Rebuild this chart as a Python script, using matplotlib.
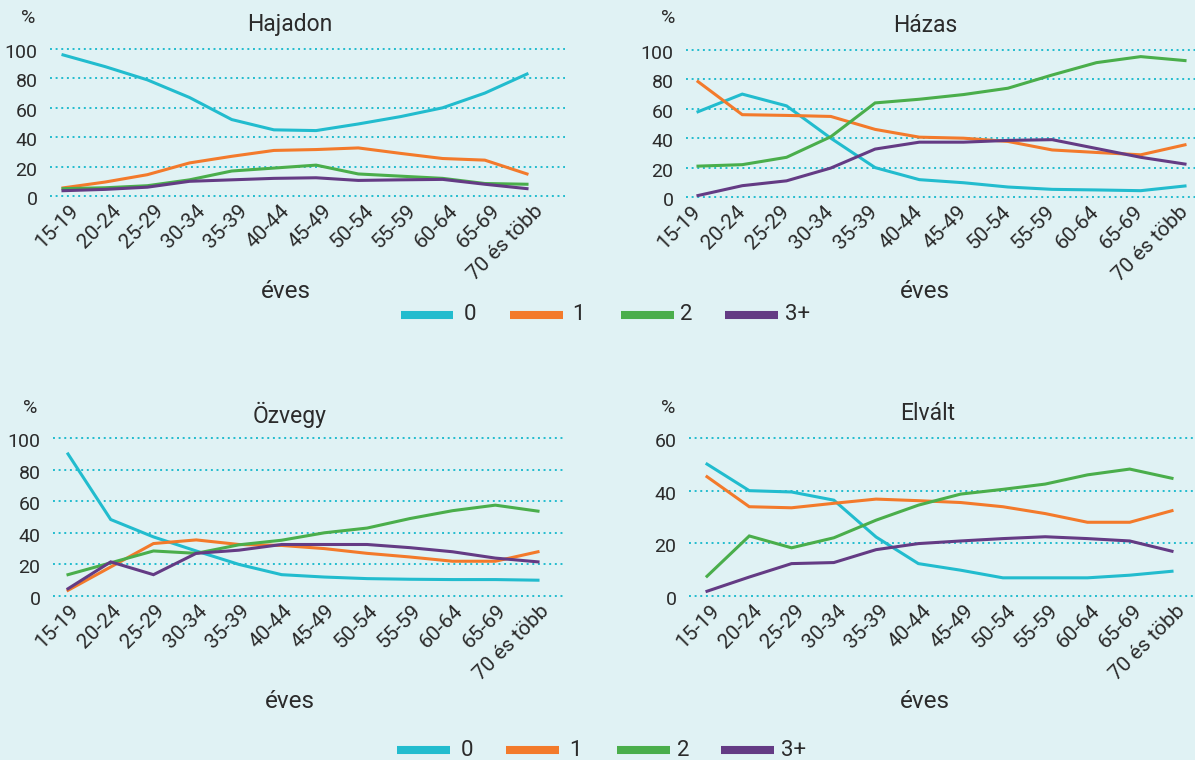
import matplotlib
matplotlib.use("Agg")
import matplotlib.pyplot as plt
from matplotlib.lines import Line2D
from matplotlib import transforms

plt.rcParams['font.family'] = ['Roboto', 'DejaVu Sans']

W, H = 1195, 760
BG = '#E0F2F4'
TXT = '#2B2B2B'
GRID = '#22BCCE'

categories = ['15-19', '20-24', '25-29', '30-34', '35-39', '40-44', '45-49',
              '50-54', '55-59', '60-64', '65-69', '70 és több']
series_names = ['0', '1', '2', '3+']
colors = ['#22BCCE', '#F37A2B', '#4AAE4B', '#643B84']

hajadon_0 = [96, 88, 79, 67, 52, 45, 44.5, 49, 54, 60, 70, 83]
hajadon_1 = [5.5, 9.5, 14.5, 22.5, 27, 31, 31.6, 32.7, 29, 25.5, 24.4, 15]
hajadon_2 = [5, 5.6, 7, 11, 17, 19, 21, 15, 13.5, 12, 8.5, 8]
hajadon_3 = [3.6, 4.5, 6, 10, 11, 12, 12.4, 10.6, 11, 11.3, 8, 5]

hazas_0 = [58, 70, 62, 40, 20, 11.8, 9.7, 6.8, 5.2, 4.8, 4.3, 7.5]
hazas_1 = [78.5, 56, 55.5, 54.8, 46, 40.7, 40, 37.8, 32, 30.3, 28.7, 35.5]
hazas_2 = [21, 22, 27, 41, 64, 66.5, 69.7, 74, 83, 91.4, 95.5, 92.8]
hazas_3 = [1, 7.7, 11, 19.7, 32.6, 37.3, 37.3, 38.5, 39, 33, 27, 22.4]

ozvegy_0 = [89.9, 48.4, 37.4, 28.5, 20, 13.5, 12, 11, 10.6, 10.4, 10.4, 10]
ozvegy_1 = [3.6, 18.4, 33.2, 35.5, 32.6, 32, 30, 27, 24.7, 22, 22, 28]
ozvegy_2 = [13.5, 21, 28.5, 27, 32.4, 35.3, 40, 43, 49, 54, 57.5, 53.7]
ozvegy_3 = [4.6, 21.6, 13.5, 27, 29, 32.6, 32.6, 32.6, 30.6, 28, 24, 21.6]

elvalt_0 = [50.1, 40, 39.5, 36.4, 22.4, 12.3, 9.8, 6.9, 6.9, 6.9, 7.9, 9.4]
elvalt_1 = [45.3, 33.9, 33.5, 35.2, 36.8, 36.2, 35.5, 33.9, 31.3, 28, 28, 32.4]
elvalt_2 = [7.5, 22.8, 18.3, 22.1, 28.8, 34.5, 38.7, 40.5, 42.5, 46, 48.2, 44.7]
elvalt_3 = [1.8, 7.2, 12.3, 12.7, 17.6, 19.9, 20.9, 21.8, 22.5, 21.8, 20.9, 17]

panel_titles = ['Hajadon', 'Házas', 'Özvegy', 'Elvált']
panel_data = [
    [hajadon_0, hajadon_1, hajadon_2, hajadon_3],
    [hazas_0, hazas_1, hazas_2, hazas_3],
    [ozvegy_0, ozvegy_1, ozvegy_2, ozvegy_3],
    [elvalt_0, elvalt_1, elvalt_2, elvalt_3],
]
panel_yticks = [[0, 20, 40, 60, 80, 100]] * 3 + [[0, 20, 40, 60]]

# layout in pixels: left, right, top, bottom of plot area, first/last point x
boxes = [
    (50, 565, 49, 196, 63, 527),
    (686, 1195, 50, 197, 698, 1185),
    (53, 566, 438, 596, 68, 538),
    (689, 1195, 438, 596, 707, 1172),
]
xlab_shift = [6, -7, 1, 3]
title_pos = [(290, 25), (925, 25), (290, 415), (928, 413)]
pct_pos = [(28, 18), (668, 18), (30, 408), (668, 408)]
xlabel_pos = [(286, 292), (925, 292), (290, 702), (925, 702)]

fig = plt.figure(figsize=(W / 100, H / 100), dpi=100, facecolor=BG)

for k in range(4):
    l, r, t, b, x0, x1 = boxes[k]
    ax = fig.add_axes([l / W, 1 - b / H, (r - l) / W, (b - t) / H])
    ax.set_facecolor(BG)
    n = len(categories)
    sp = (x1 - x0) / (n - 1)
    ax.set_xlim(-(x0 - l) / sp, (n - 1) + (r - x1) / sp)
    yt = panel_yticks[k]
    ax.set_ylim(yt[0], yt[-1])
    for s, vals in enumerate(panel_data[k]):
        ax.plot(range(n), vals, color=colors[s], lw=2.2, clip_on=False,
                solid_joinstyle='miter', zorder=3)
    for y in yt:
        ax.axhline(y, color=GRID, lw=1.4, linestyle=(0, (1, 1.9)),
                   clip_on=False, zorder=1)
    for sp_ in ax.spines.values():
        sp_.set_visible(False)
    ax.set_yticks(yt)
    ax.set_yticklabels([str(v) for v in yt], fontsize=14, color=TXT)
    ax.tick_params(axis='y', length=0, pad=9)
    ax.set_xticks(range(n))
    ax.set_xticklabels(categories, fontsize=15, color=TXT, rotation=45,
                       ha='right', va='top', rotation_mode='anchor')
    ax.tick_params(axis='x', length=0, pad=3)
    off = transforms.ScaledTranslation(xlab_shift[k] / 100, -1 / 100,
                                       fig.dpi_scale_trans)
    for lab in ax.get_xticklabels():
        lab.set_transform(lab.get_transform() + off)
    offy = transforms.ScaledTranslation(0, -2 / 100, fig.dpi_scale_trans)
    for lab in ax.get_yticklabels():
        lab.set_transform(lab.get_transform() + offy)

    tx, ty = title_pos[k]
    fig.text(tx / W, 1 - ty / H, panel_titles[k], fontsize=16.5, color=TXT,
             ha='center', va='center')
    px, py = pct_pos[k]
    fig.text(px / W, 1 - py / H, '%', fontsize=14, color=TXT,
             ha='center', va='center')
    lx, ly = xlabel_pos[k]
    fig.text(lx / W, 1 - ly / H, 'éves', fontsize=17.5, color=TXT,
             ha='center', va='center')

# legends (drawn twice, as in the reference)
legend_rows = [
    (315, [(401, 453, 470), (510, 563, 578), (621, 674, 686), (725, 778, 798)]),
    (750, [(397, 450, 467), (506, 559, 575), (617, 670, 683), (721, 774, 794)]),
]
for ly, items in legend_rows:
    for s, (a, bb, tx) in enumerate(items):
        fig.add_artist(Line2D([a / W, bb / W], [1 - ly / H, 1 - ly / H],
                              transform=fig.transFigure, color=colors[s],
                              lw=5.8, solid_capstyle='butt'))
        fig.text(tx / W, 1 - ly / H, series_names[s], fontsize=16, color=TXT,
                 ha='center', va='center')

fig.savefig('out.png', dpi=100, facecolor=BG)
